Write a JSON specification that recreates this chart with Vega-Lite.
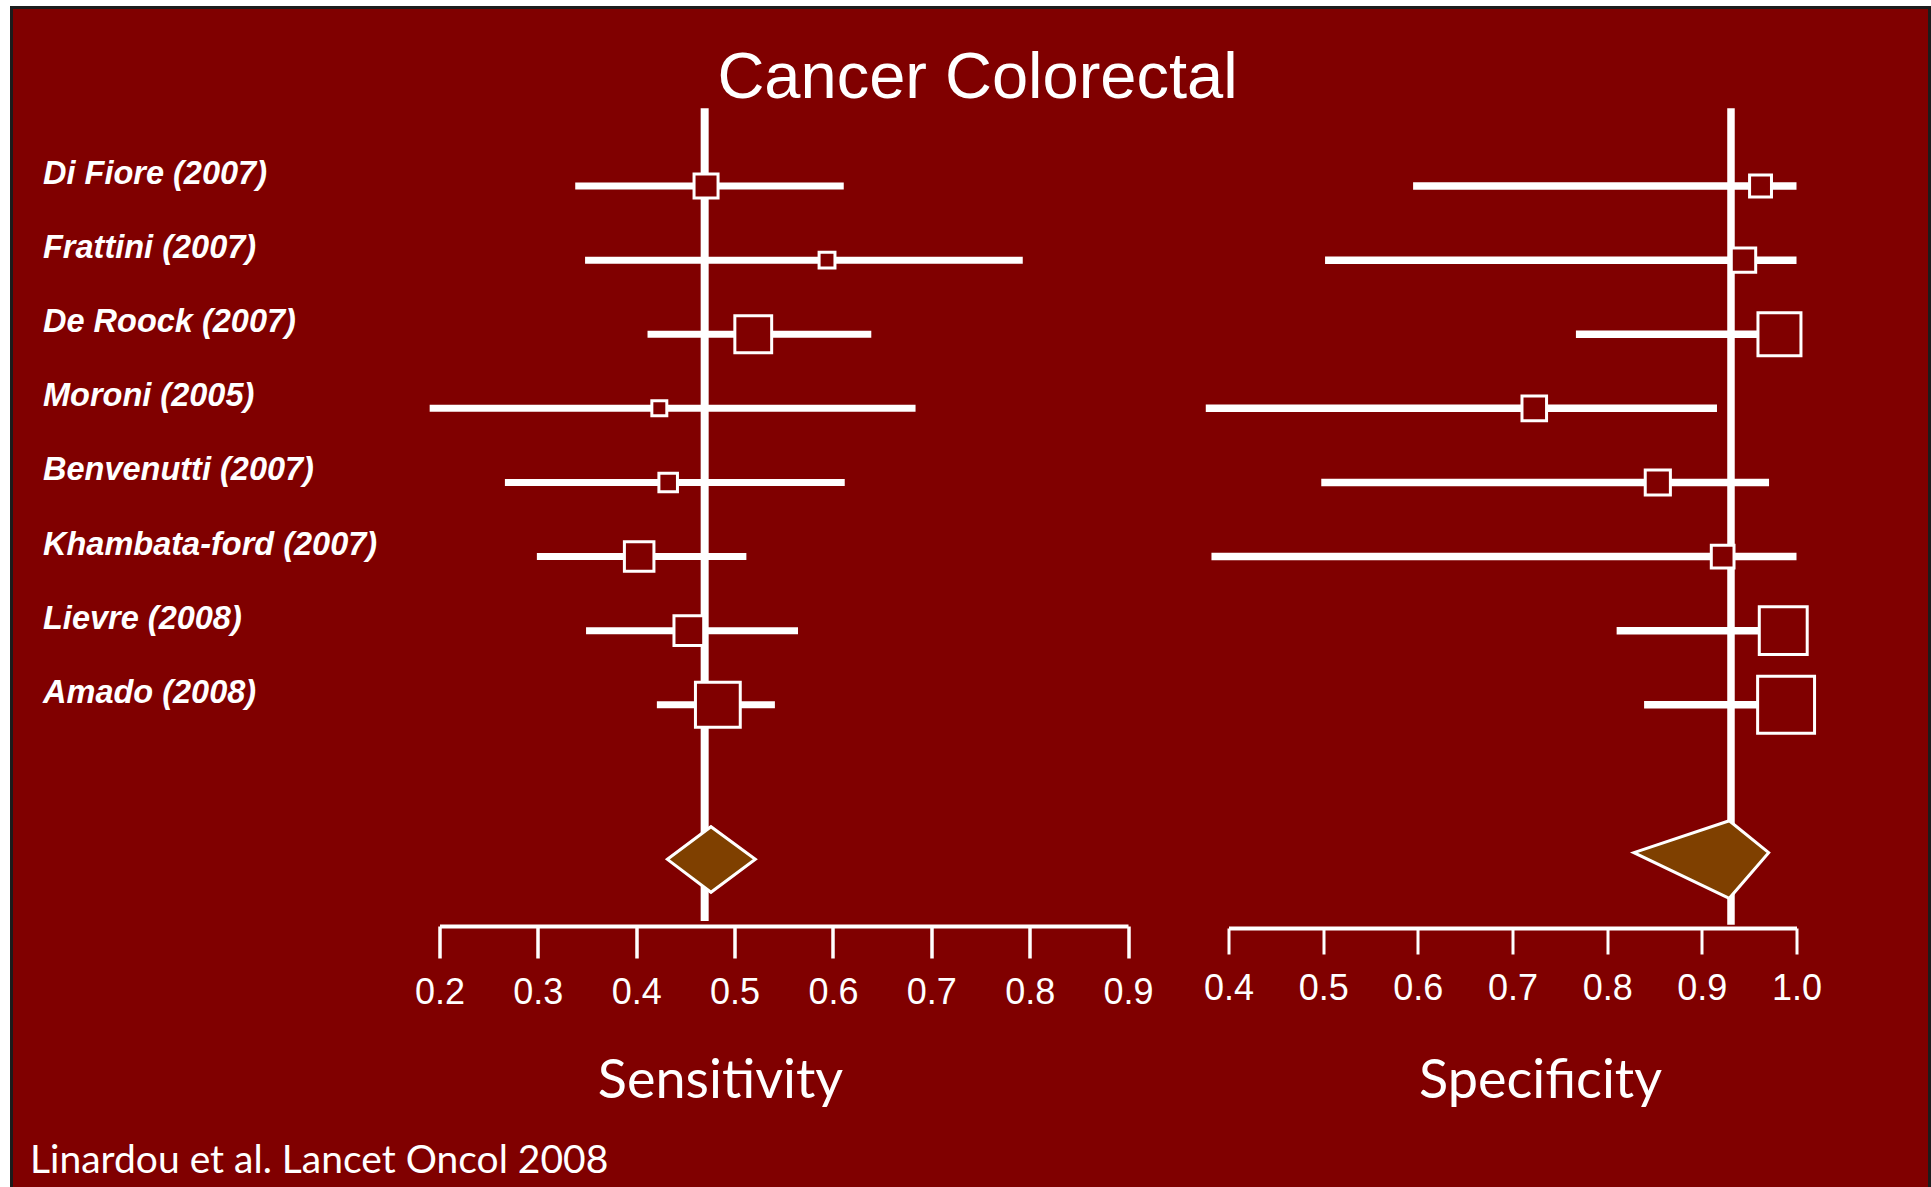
{
  "$schema": "https://vega.github.io/schema/vega-lite/v6.json",
  "width": 1931,
  "height": 1187,
  "autosize": {"type": "fit", "contains": "padding"},
  "padding": {"left": 11.5, "top": 7.5, "right": 1.5, "bottom": -2},
  "title": {
    "text": "Cancer Colorectal",
    "font": "Liberation Sans",
    "fontSize": 65,
    "fontWeight": "normal",
    "color": "white",
    "anchor": "middle",
    "frame": "group",
    "baseline": "alphabetic",
    "offset": -155,
    "dx": 7
  },
  "config": {
    "background": "white",
    "view": {"fill": "#800000", "stroke": "#1c1c1c", "strokeWidth": 3},
    "axis": {"grid": false, "labelFlush": false, "labelOverlap": false, "labelBound": false}
  },
  "datasets": {
    "studies": [
      {"study": "Di Fiore (2007)", "row": 1, "sens": 0.471, "sensLo": 0.338, "sensHi": 0.611, "spec": 0.962, "specLo": 0.595, "specHi": 1.0, "weightSens": 14.4, "weightSpec": 12.0},
      {"study": "Frattini (2007)", "row": 2, "sens": 0.594, "sensLo": 0.348, "sensHi": 0.793, "spec": 0.944, "specLo": 0.502, "specHi": 1.0, "weightSens": 6.3, "weightSpec": 14.9},
      {"study": "De Roock (2007)", "row": 3, "sens": 0.519, "sensLo": 0.4115, "sensHi": 0.639, "spec": 0.982, "specLo": 0.767, "specHi": 1.0, "weightSens": 33.9, "weightSpec": 46.2},
      {"study": "Moroni (2005)", "row": 4, "sens": 0.4235, "sensLo": 0.19, "sensHi": 0.684, "spec": 0.723, "specLo": 0.376, "specHi": 0.916, "weightSens": 5.6, "weightSpec": 15.1},
      {"study": "Benvenutti (2007)", "row": 5, "sens": 0.4325, "sensLo": 0.2665, "sensHi": 0.612, "spec": 0.8535, "specLo": 0.498, "specHi": 0.971, "weightSens": 8.6, "weightSpec": 15.8},
      {"study": "Khambata-ford (2007)", "row": 6, "sens": 0.403, "sensLo": 0.299, "sensHi": 0.512, "spec": 0.922, "specLo": 0.382, "specHi": 1.0, "weightSens": 21.8, "weightSpec": 12.9},
      {"study": "Lievre (2008)", "row": 7, "sens": 0.4535, "sensLo": 0.349, "sensHi": 0.5645, "spec": 0.986, "specLo": 0.81, "specHi": 0.995, "weightSens": 22.1, "weightSpec": 57.4},
      {"study": "Amado (2008)", "row": 8, "sens": 0.483, "sensLo": 0.421, "sensHi": 0.541, "spec": 0.989, "specLo": 0.839, "specHi": 0.995, "weightSens": 50.2, "weightSpec": 81.0}
    ],
    "pooled": [
      {"sensRef": 0.4696, "specRef": 0.9308}
    ],
    "diamond": [
      {"measure": "Sensitivity", "x": 0.4317, "yTop": 10.086, "yBottom": 10.086},
      {"measure": "Sensitivity", "x": 0.476, "yTop": 9.646, "yBottom": 10.531},
      {"measure": "Sensitivity", "x": 0.5211, "yTop": 10.086, "yBottom": 10.086},
      {"measure": "Specificity", "x": 0.8283, "yTop": 9.996, "yBottom": 9.996},
      {"measure": "Specificity", "x": 0.929, "yTop": 9.565, "yBottom": 10.612},
      {"measure": "Specificity", "x": 0.9706, "yTop": 9.996, "yBottom": 9.996}
    ]
  },
  "layer": [
    {
      "data": {"name": "studies"},
      "mark": {"type": "rule", "color": "white", "strokeWidth": 7, "strokeCap": "butt"},
      "encoding": {
        "x": {
          "field": "sensLo", "type": "quantitative",
          "scale": {"domain": [0.2, 0.9], "range": [428, 1116.5], "nice": false, "zero": false},
          "axis": {
            "orient": "bottom", "offset": -263,
            "values": [0.2, 0.3, 0.4, 0.5, 0.6, 0.7, 0.8, 0.9], "format": ".1f",
            "domainColor": "white", "domainWidth": 4,
            "tickColor": "white", "tickWidth": 3.5, "tickSize": 32,
            "labelColor": "white", "labelFont": "Liberation Sans", "labelFontSize": 36, "labelPadding": 17.5,
            "title": "Sensitivity", "titleX": 708.5, "titleY": 171, "titleAlign": "center", "titleBaseline": "alphabetic",
            "titleFont": "Lato", "titleFontSize": 54, "titleFontWeight": "normal", "titleColor": "white"
          }
        },
        "x2": {"field": "sensHi"},
        "y": {
          "field": "row", "type": "quantitative",
          "scale": {"domain": [1, 8], "range": [178.55, 697.25], "nice": false, "zero": false},
          "axis": null
        }
      }
    },
    {
      "data": {"name": "studies"},
      "mark": {"type": "rule", "color": "white", "strokeWidth": 7.5, "strokeCap": "butt"},
      "encoding": {
        "x": {
          "field": "specLo", "type": "quantitative",
          "scale": {"domain": [0.4, 1.0], "range": [1217, 1785], "nice": false, "zero": false},
          "axis": {
            "orient": "bottom", "offset": -261,
            "values": [0.4, 0.5, 0.6, 0.7, 0.8, 0.9, 1.0], "format": ".1f",
            "domainColor": "white", "domainWidth": 4,
            "tickColor": "white", "tickWidth": 3, "tickSize": 26,
            "labelColor": "white", "labelFont": "Liberation Sans", "labelFontSize": 36, "labelPadding": 17.5,
            "title": "Specificity", "titleX": 1528.5, "titleY": 169, "titleAlign": "center", "titleBaseline": "alphabetic",
            "titleFont": "Lato", "titleFontSize": 54, "titleFontWeight": "normal", "titleColor": "white"
          }
        },
        "x2": {"field": "specHi"},
        "y": {
          "field": "row", "type": "quantitative",
          "scale": {"domain": [1, 8], "range": [178.55, 697.25], "nice": false, "zero": false},
          "axis": null
        }
      }
    },
    {
      "data": {"name": "pooled"},
      "mark": {"type": "rule", "color": "white", "strokeWidth": 8, "strokeCap": "butt"},
      "encoding": {
        "x": {
          "field": "sensRef", "type": "quantitative",
          "scale": {"domain": [0.2, 0.9], "range": [428, 1116.5], "nice": false, "zero": false},
          "axis": {
            "orient": "bottom", "offset": -263,
            "labels": false, "ticks": false, "domain": false,
            "title": "Linardou et al. Lancet Oncol 2008", "titleX": 18, "titleY": 246,
            "titleAlign": "left", "titleBaseline": "alphabetic",
            "titleFont": "Lato", "titleFontSize": 39, "titleFontWeight": "normal", "titleColor": "white"
          }
        },
        "y": {
          "datum": -0.05, "type": "quantitative",
          "scale": {"domain": [1, 8], "range": [178.55, 697.25], "nice": false, "zero": false},
          "axis": null
        },
        "y2": {"datum": 10.92}
      }
    },
    {
      "data": {"name": "pooled"},
      "mark": {"type": "rule", "color": "white", "strokeWidth": 7.5, "strokeCap": "butt"},
      "encoding": {
        "x": {
          "field": "specRef", "type": "quantitative",
          "scale": {"domain": [0.4, 1.0], "range": [1217, 1785], "nice": false, "zero": false},
          "axis": null
        },
        "y": {
          "datum": -0.05, "type": "quantitative",
          "scale": {"domain": [1, 8], "range": [178.55, 697.25], "nice": false, "zero": false},
          "axis": null
        },
        "y2": {"datum": 10.97}
      }
    },
    {
      "data": {"name": "studies"},
      "mark": {"type": "point", "shape": "square", "filled": true, "fill": "#800000", "stroke": "white", "strokeWidth": 3, "opacity": 1, "fillOpacity": 1, "strokeOpacity": 1},
      "encoding": {
        "x": {
          "field": "sens", "type": "quantitative",
          "scale": {"domain": [0.2, 0.9], "range": [428, 1116.5], "nice": false, "zero": false},
          "axis": null
        },
        "y": {
          "field": "row", "type": "quantitative",
          "scale": {"domain": [1, 8], "range": [178.55, 697.25], "nice": false, "zero": false},
          "axis": null
        },
        "size": {
          "field": "weightSens", "type": "quantitative",
          "scale": {"type": "linear", "domain": [0, 100], "range": [0, 4000], "zero": true},
          "legend": null
        }
      }
    },
    {
      "data": {"name": "studies"},
      "mark": {"type": "point", "shape": "square", "filled": true, "fill": "#800000", "stroke": "white", "strokeWidth": 3, "opacity": 1, "fillOpacity": 1, "strokeOpacity": 1},
      "encoding": {
        "x": {
          "field": "spec", "type": "quantitative",
          "scale": {"domain": [0.4, 1.0], "range": [1217, 1785], "nice": false, "zero": false},
          "axis": null
        },
        "y": {
          "field": "row", "type": "quantitative",
          "scale": {"domain": [1, 8], "range": [178.55, 697.25], "nice": false, "zero": false},
          "axis": null
        },
        "size": {
          "field": "weightSpec", "type": "quantitative",
          "scale": {"type": "linear", "domain": [0, 100], "range": [0, 4000], "zero": true},
          "legend": null
        }
      }
    },
    {
      "data": {"name": "diamond"},
      "transform": [{"filter": "datum.measure === 'Sensitivity'"}],
      "mark": {"type": "area", "orient": "vertical", "fill": "#7f4000", "stroke": "white", "strokeWidth": 3, "strokeJoin": "miter", "opacity": 1, "fillOpacity": 1},
      "encoding": {
        "x": {
          "field": "x", "type": "quantitative",
          "scale": {"domain": [0.2, 0.9], "range": [428, 1116.5], "nice": false, "zero": false},
          "axis": null
        },
        "y": {
          "field": "yTop", "type": "quantitative",
          "scale": {"domain": [1, 8], "range": [178.55, 697.25], "nice": false, "zero": false},
          "axis": null
        },
        "y2": {"field": "yBottom"}
      }
    },
    {
      "data": {"name": "diamond"},
      "transform": [{"filter": "datum.measure === 'Specificity'"}],
      "mark": {"type": "area", "orient": "vertical", "fill": "#7f4000", "stroke": "white", "strokeWidth": 3, "strokeJoin": "miter", "opacity": 1, "fillOpacity": 1},
      "encoding": {
        "x": {
          "field": "x", "type": "quantitative",
          "scale": {"domain": [0.4, 1.0], "range": [1217, 1785], "nice": false, "zero": false},
          "axis": null
        },
        "y": {
          "field": "yTop", "type": "quantitative",
          "scale": {"domain": [1, 8], "range": [178.55, 697.25], "nice": false, "zero": false},
          "axis": null
        },
        "y2": {"field": "yBottom"}
      }
    },
    {
      "data": {"name": "studies"},
      "mark": {"type": "text", "align": "left", "baseline": "middle", "dy": -12, "font": "Liberation Sans", "fontSize": 32.5, "fontStyle": "italic", "fontWeight": "bold", "color": "white"},
      "encoding": {
        "text": {"field": "study", "type": "nominal"},
        "x": {
          "datum": -0.2031, "type": "quantitative",
          "scale": {"domain": [0.2, 0.9], "range": [428, 1116.5], "nice": false, "zero": false},
          "axis": null
        },
        "y": {
          "field": "row", "type": "quantitative",
          "scale": {"domain": [1, 8], "range": [178.55, 697.25], "nice": false, "zero": false},
          "axis": null
        }
      }
    }
  ],
  "resolve": {"scale": {"x": "independent"}, "axis": {"x": "independent"}}
}
